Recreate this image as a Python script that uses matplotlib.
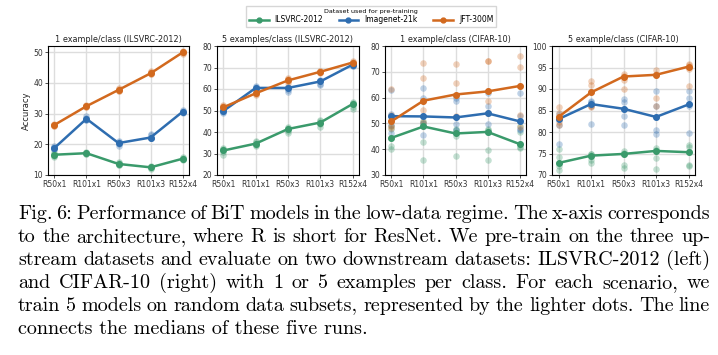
import numpy as np
import matplotlib
matplotlib.use("Agg")
from matplotlib import pyplot as plt
from matplotlib.lines import Line2D

archs = ['R50x1', 'R101x1', 'R50x3', 'R101x3', 'R152x4']
datasets = ['ILSVRC-2012', 'Imagenet-21k', 'JFT-300M']
colors = ['#3a9a6b', '#2e6db0', '#d2691e']

titles = ['1 example/class (ILSVRC-2012)', '5 examples/class (ILSVRC-2012)',
          '1 example/class (CIFAR-10)', '5 example/class (CIFAR-10)']
ylims = [(10, 52), (20, 80), (30, 80), (70, 100)]
yticks = [[10, 20, 30, 40, 50], [20, 30, 40, 50, 60, 70, 80],
          [30, 40, 50, 60, 70, 80], [70, 75, 80, 85, 90, 95, 100]]

# five runs per architecture, one list per architecture
ilsvrc_1shot = {
    'ILSVRC-2012': [[17.5, 16.9, 16.6, 16.3, 16.0], [17.6, 17.3, 17.1, 16.9, 16.7],
                    [14.1, 13.8, 13.6, 13.4, 13.1], [13.0, 12.7, 12.5, 12.3, 12.0],
                    [16.0, 15.6, 15.3, 15.1, 14.8]],
    'Imagenet-21k': [[19.5, 19.1, 18.8, 18.6, 18.4], [29.3, 28.7, 28.3, 28.0, 27.8],
                     [21.0, 20.7, 20.4, 20.0, 19.5], [23.5, 22.9, 22.2, 22.0, 21.9],
                     [31.3, 30.9, 30.6, 30.4, 30.3]],
    'JFT-300M': [[26.6, 26.4, 26.3, 26.1, 26.0], [32.7, 32.5, 32.4, 32.2, 32.0],
                 [38.2, 37.9, 37.7, 37.5, 37.3], [44.0, 43.5, 43.1, 42.9, 42.8],
                 [50.5, 50.1, 49.9, 49.6, 49.4]],
}
ilsvrc_5shot = {
    'ILSVRC-2012': [[32.5, 32.0, 31.4, 30.5, 29.5], [36.0, 35.2, 34.6, 34.0, 33.5],
                    [42.5, 42.0, 41.4, 40.5, 39.5], [45.5, 45.0, 44.4, 43.5, 42.5],
                    [54.0, 53.5, 53.0, 51.5, 50.5]],
    'Imagenet-21k': [[50.5, 50.1, 49.8, 49.2, 48.8], [61.5, 61.0, 60.5, 60.2, 60.0],
                     [61.0, 60.7, 60.5, 59.5, 58.5], [64.0, 63.8, 63.5, 62.5, 61.8],
                     [72.0, 71.6, 71.3, 70.9, 70.5]],
    'JFT-300M': [[52.5, 52.0, 51.5, 51.0, 50.5], [59.0, 58.5, 58.0, 57.6, 57.3],
                 [65.0, 64.5, 64.0, 63.5, 63.0], [68.5, 68.2, 68.0, 67.7, 67.5],
                 [73.0, 72.6, 72.3, 72.0, 71.8]],
}
cifar_1shot = {
    'ILSVRC-2012': [[49.0, 48.0, 44.4, 41.3, 40.0], [51.0, 50.2, 48.8, 42.6, 36.0],
                    [48.0, 47.3, 46.1, 45.3, 37.4], [48.0, 47.4, 46.7, 39.5, 36.0],
                    [48.8, 46.8, 42.0, 41.0, 40.6]],
    'Imagenet-21k': [[63.0, 53.8, 52.8, 49.5, 46.3], [63.9, 60.0, 52.7, 50.3, 45.5],
                     [60.0, 58.5, 52.3, 49.9, 47.6], [61.6, 56.8, 53.9, 49.8, 46.5],
                     [61.7, 53.0, 50.8, 47.9, 47.3]],
    'JFT-300M': [[63.4, 53.2, 50.8, 49.0, 48.2], [73.6, 67.5, 58.8, 55.0, 50.6],
                 [73.2, 65.7, 61.2, 53.0, 52.5], [74.2, 74.0, 62.4, 58.6, 54.0],
                 [76.1, 72.0, 64.5, 53.2, 48.5]],
}
cifar_5shot = {
    'ILSVRC-2012': [[76.0, 74.1, 72.8, 72.0, 71.2], [75.0, 74.8, 74.5, 73.5, 72.9],
                    [75.5, 75.2, 74.9, 72.4, 71.6], [76.2, 75.9, 75.6, 74.0, 71.4],
                    [77.0, 76.4, 75.3, 72.4, 72.2]],
    'Imagenet-21k': [[84.2, 83.4, 83.0, 81.6, 77.3], [87.2, 86.9, 86.5, 86.0, 81.8],
                     [87.7, 87.0, 85.4, 83.8, 81.7], [89.5, 86.0, 83.5, 80.4, 79.6],
                     [89.5, 87.8, 86.4, 86.0, 79.8]],
    'JFT-300M': [[85.9, 84.4, 83.5, 82.4, 81.7], [91.9, 91.0, 89.2, 86.0, 85.7],
                 [93.4, 93.1, 92.9, 92.1, 90.1], [94.5, 93.6, 93.3, 88.0, 86.0],
                 [95.9, 95.6, 95.2, 94.6, 90.8]],
}
panels = [ilsvrc_1shot, ilsvrc_5shot, cifar_1shot, cifar_5shot]

caption = [
    "Fig. 6: Performance of BiT models in the low-data regime. The x-axis corresponds",
    "to the architecture, where R is short for ResNet. We pre-train on the three up-",
    "stream datasets and evaluate on two downstream datasets: ILSVRC-2012 (left)",
    "and CIFAR-10 (right) with 1 or 5 examples per class. For each scenario, we",
    "train 5 models on random data subsets, represented by the lighter dots. The line",
    "connects the medians of these five runs.",
]

W, H = 718, 355
fig = plt.figure(figsize=(W / 100, H / 100), dpi=100)

# axes boxes in pixels: left, right
boxes = [(48, 189), (217, 359), (385, 526), (552, 695)]
top, bottom = 46, 175

x = np.arange(len(archs))
for i, (l, r) in enumerate(boxes):
    ax = fig.add_axes([l / W, 1 - bottom / H, (r - l) / W, (bottom - top) / H])
    data = panels[i]
    for name, c in zip(datasets, colors):
        runs = np.array(data[name])
        for j in range(len(archs)):
            ax.scatter([x[j]] * runs.shape[1], runs[j], s=22, color=c, alpha=0.3,
                       linewidths=0, zorder=2)
        ax.plot(x, np.median(runs, axis=1), color=c, lw=1.8, marker='o', ms=4,
                zorder=3)
    ax.set_xticks(x)
    ax.set_xticklabels(archs)
    ax.set_yticks(yticks[i])
    ax.set_ylim(*ylims[i])
    ax.grid(True, color='#dddddd', lw=1)
    ax.set_axisbelow(True)
    ax.tick_params(labelsize=5.5, length=2, width=0.6, pad=1.5, colors='#333333')
    for s in ax.spines.values():
        s.set_linewidth(0.8)
    ax.set_title(titles[i], fontsize=5.9, pad=3, color='#222222')
    if i == 0:
        ax.set_ylabel('Accuracy', fontsize=6, labelpad=2, color='#222222')

handles = [Line2D([], [], color=c, lw=1.8, marker='o', ms=3.5) for c in colors]
fig.legend(handles, datasets, loc='upper center', bbox_to_anchor=(371 / W, 0.995),
           ncol=3, fontsize=5.5, title='Dataset used for pre-training',
           title_fontsize=4.6, frameon=True, handlelength=2.6, columnspacing=2.0,
           borderpad=0.4, labelspacing=0.2, fancybox=False, edgecolor='#cccccc')

# caption, justified between two margins
x0, x1 = 18, 710
fs = 14.5
renderer = fig.canvas.get_renderer()
for k, line in enumerate(caption):
    yb = 1 - (219 + 23.0 * k) / H
    words = line.split(' ')
    if k == len(caption) - 1:
        fig.text(x0 / W, yb, line, fontsize=fs, family=['cmr10', 'DejaVu Serif'],
                 va='baseline', ha='left')
        continue
    texts = [fig.text(0, yb, w, fontsize=fs, family=['cmr10', 'DejaVu Serif'],
                      va='baseline', ha='left') for w in words]
    widths = [t.get_window_extent(renderer).width for t in texts]
    gap = (x1 - x0 - sum(widths)) / (len(words) - 1)
    pos = x0
    for t, w in zip(texts, widths):
        t.set_x(pos / W)
        pos += w + gap

fig.savefig('out.png', dpi=100)
